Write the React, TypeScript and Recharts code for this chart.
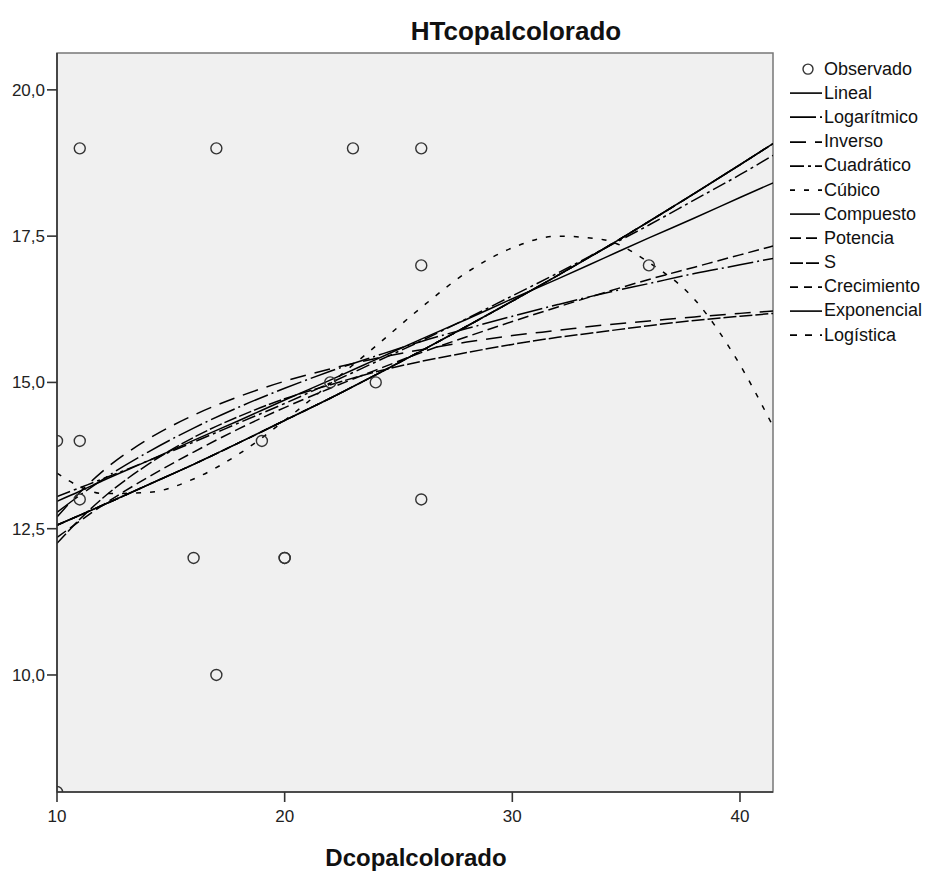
import { ComposedChart, Line, Scatter, XAxis, YAxis, CartesianGrid, ReferenceArea } from 'recharts';

const xGrid = [10, 11, 12, 14, 16, 18, 20, 22, 24, 26, 28, 30, 32, 34, 36, 38, 40, 41.45];

const lineal = [12.97, 13.14, 13.32, 13.66, 14.01, 14.35, 14.7, 15.04, 15.39, 15.74, 16.08, 16.43, 16.77, 17.12, 17.47, 17.81, 18.16, 18.41];
const logaritmico = [12.78, 13.07, 13.34, 13.81, 14.22, 14.58, 14.9, 15.19, 15.45, 15.7, 15.92, 16.13, 16.33, 16.52, 16.69, 16.86, 17.01, 17.12];
const inverso = [12.7, 13.12, 13.48, 14.03, 14.44, 14.76, 15.02, 15.23, 15.41, 15.56, 15.69, 15.8, 15.89, 15.98, 16.05, 16.12, 16.18, 16.22];
const cuadratico = [13.05, 13.2, 13.35, 13.66, 13.98, 14.31, 14.64, 14.99, 15.35, 15.71, 16.09, 16.48, 16.87, 17.28, 17.69, 18.12, 18.55, 18.88];
const cubico = [13.45, 13.22, 13.1, 13.12, 13.35, 13.78, 14.35, 14.98, 15.62, 16.28, 16.88, 17.3, 17.5, 17.44, 17.05, 16.42, 15.3, 14.25];
// compuesto, crecimiento, exponencial and logística fall on the same curve
const compuesto = [12.56, 12.73, 12.9, 13.25, 13.6, 13.97, 14.35, 14.73, 15.13, 15.54, 15.96, 16.39, 16.83, 17.28, 17.75, 18.23, 18.72, 19.08];
const potencia = [12.35, 12.63, 12.9, 13.38, 13.81, 14.21, 14.57, 14.9, 15.21, 15.51, 15.78, 16.04, 16.29, 16.53, 16.76, 16.97, 17.18, 17.33];
const sCurve = [12.25, 12.66, 13.02, 13.6, 14.06, 14.42, 14.72, 14.96, 15.18, 15.36, 15.51, 15.65, 15.77, 15.87, 15.97, 16.06, 16.13, 16.18];

const xObs = [10, 10, 11, 11, 11, 16, 17, 17, 19, 20, 20, 22, 23, 24, 26, 26, 26, 36];
const yObs = [14, 8, 14, 13, 19, 12, 19, 10, 14, 12, 12, 15, 19, 15, 19, 17, 13, 17];

const xTicks = [10, 20, 30, 40];
const yTicks = [10, 12.5, 15, 17.5, 20];

const FONT = '"Liberation Sans", Arial, Helvetica, sans-serif';

const series = [
  { key: 'lineal', name: 'Lineal', values: lineal, dash: '' },
  { key: 'logaritmico', name: 'Logarítmico', values: logaritmico, dash: '26 4 2 4' },
  { key: 'inverso', name: 'Inverso', values: inverso, dash: '16 9' },
  { key: 'cuadratico', name: 'Cuadrático', values: cuadratico, dash: '14 4 3 4' },
  { key: 'cubico', name: 'Cúbico', values: cubico, dash: '5 9' },
  { key: 'compuesto', name: 'Compuesto', values: compuesto, dash: '30 3 1 3' },
  { key: 'potencia', name: 'Potencia', values: potencia, dash: '11 5' },
  { key: 's', name: 'S', values: sCurve, dash: '13 3' },
  { key: 'crecimiento', name: 'Crecimiento', values: compuesto, dash: '8 6' },
  { key: 'exponencial', name: 'Exponencial', values: compuesto, dash: '' },
  { key: 'logistica', name: 'Logística', values: compuesto, dash: '7 8' },
];

const curveData = xGrid.map((x, i) => {
  const row: Record<string, number> = { x };
  series.forEach((s) => {
    row[s.key] = s.values[i];
  });
  return row;
});

const obsData = xObs.map((x, i) => ({ x, y: yObs[i] }));

const fmt = (v: number) => v.toFixed(1).replace('.', ',');

function Ring(props: any) {
  const { cx, cy } = props;
  return <circle cx={cx} cy={cy} r={5.5} fill="none" stroke="#333" strokeWidth={1.4} />;
}

function LegendBox() {
  const rowH = 24.2;
  return (
    <div style={{ position: 'absolute', left: 788, top: 57, fontFamily: FONT, fontSize: 18, color: '#111' }}>
      <div style={{ height: rowH, display: 'flex', alignItems: 'center' }}>
        <svg width={36} height={rowH}>
          <circle cx={20} cy={rowH / 2} r={5} fill="none" stroke="#333" strokeWidth={1.4} />
        </svg>
        <span>Observado</span>
      </div>
      {series.map((s) => (
        <div key={s.key} style={{ height: rowH, display: 'flex', alignItems: 'center' }}>
          <svg width={36} height={rowH}>
            <line x1={2} x2={34} y1={rowH / 2} y2={rowH / 2} stroke="#000" strokeWidth={1.6} strokeDasharray={s.dash || undefined} />
          </svg>
          <span>{s.name}</span>
        </div>
      ))}
    </div>
  );
}

export default function App() {
  return (
    <div style={{ position: 'absolute', left: 0, top: 0, width: 927, height: 872, background: '#fff' }}>
      <ComposedChart
        width={927}
        height={872}
        data={curveData}
        margin={{ top: 53, right: 154, bottom: 50, left: 0 }}
        style={{ fontFamily: FONT }}
      >
        <CartesianGrid fill="#F0F0F0" horizontal={false} vertical={false} />
        <XAxis
          type="number"
          dataKey="x"
          domain={[10, 41.45]}
          ticks={xTicks}
          allowDataOverflow
          height={30}
          tickSize={10}
          tickMargin={8}
          axisLine={{ stroke: '#333', strokeWidth: 1.6 }}
          tickLine={{ stroke: '#333', strokeWidth: 1.6 }}
          tick={{ fill: '#222', fontSize: 17 }}
        />
        <YAxis
          type="number"
          domain={[8, 20.63]}
          ticks={yTicks}
          allowDataOverflow
          width={57}
          tickSize={10}
          tickMargin={2}
          tickFormatter={fmt}
          axisLine={{ stroke: '#333', strokeWidth: 1.6 }}
          tickLine={{ stroke: '#333', strokeWidth: 1.6 }}
          tick={{ fill: '#222', fontSize: 17 }}
        />
        <ReferenceArea x1={10} x2={41.45} y1={8} y2={20.63} fill="none" fillOpacity={0} stroke="#777" strokeWidth={1.5} />
        {series.map((s) => (
          <Line
            key={s.key}
            dataKey={s.key}
            type="monotone"
            stroke="#000"
            strokeWidth={1.5}
            strokeDasharray={s.dash || undefined}
            dot={false}
            activeDot={false}
            isAnimationActive={false}
          />
        ))}
        <Scatter data={obsData} dataKey="y" shape={<Ring />} isAnimationActive={false} />
      </ComposedChart>
      <div
        style={{
          position: 'absolute',
          left: 516,
          top: 17,
          transform: 'translateX(-50%)',
          fontFamily: FONT,
          fontWeight: 'bold',
          fontSize: 26,
          lineHeight: '28px',
          whiteSpace: 'nowrap',
          color: '#111',
        }}
      >
        HTcopalcolorado
      </div>
      <div
        style={{
          position: 'absolute',
          left: 416,
          top: 845,
          transform: 'translateX(-50%)',
          fontFamily: FONT,
          fontWeight: 'bold',
          fontSize: 24,
          lineHeight: '26px',
          whiteSpace: 'nowrap',
          color: '#111',
        }}
      >
        Dcopalcolorado
      </div>
      <LegendBox />
    </div>
  );
}
